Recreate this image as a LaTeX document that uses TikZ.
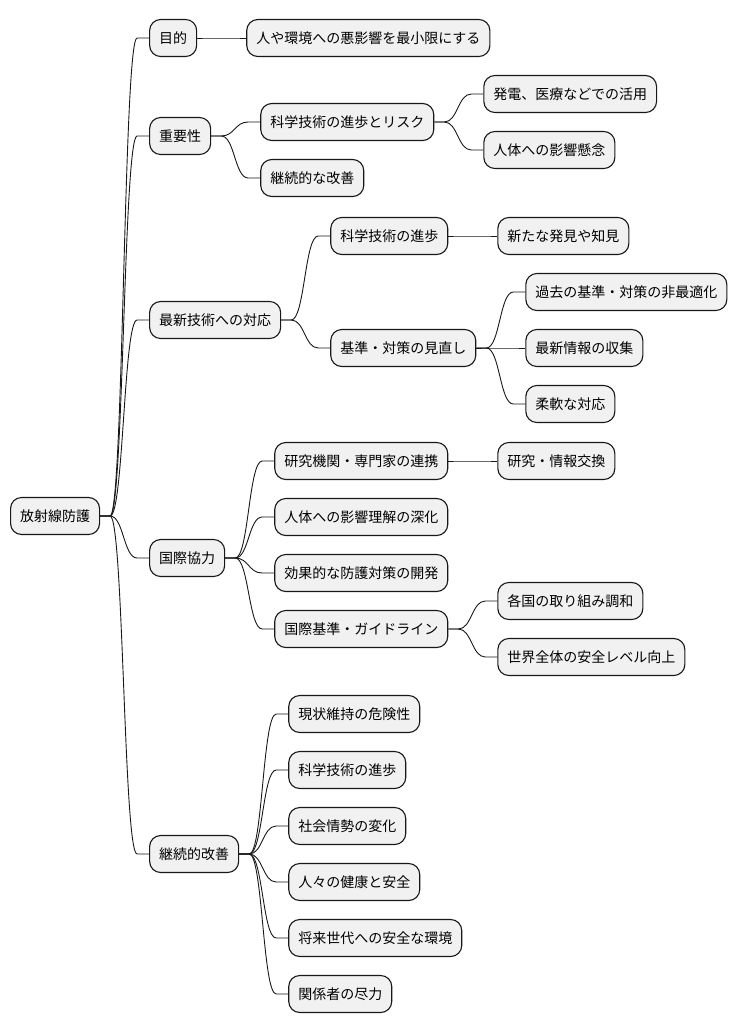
\documentclass[tikz,border=0pt]{standalone}
\usepackage{fontspec}
\setmainfont{Noto Sans CJK JP}
\usetikzlibrary{calc}
\definecolor{linec}{HTML}{181818}
\definecolor{boxfill}{HTML}{F1F1F1}
\tikzset{
  box/.style={draw=linec, fill=boxfill, line width=1.1pt, rounded corners=11pt,
    minimum height=37pt, inner xsep=9.5pt, inner ysep=0pt,
    font=\fontsize{14pt}{16pt}\selectfont, anchor=west},
  conn/.style={draw=linec, line width=0.9pt},
}
\newcommand\mmlink[2]{\draw[conn] (#1.east) -- ++(10,0) .. controls +(13.5,0) and +(-13.5,0) .. ($(#2.west)+(-12,0)$) -- (#2.west);}
\newcommand\mmchild[4]{\node[box] (#2) at ($(#1.east |- 0,#3)+(49,0)$) {#4};\mmlink{#1}{#2}}
\begin{document}
\begin{tikzpicture}[x=1pt,y=-1pt]
\useasboundingbox (0,0) rectangle (740,1034);
\node[box] (root) at (10,516) {放射線防護};
% 目的
\mmchild{root}{mokuteki}{38}{目的}
\mmchild{mokuteki}{hito}{38}{人や環境への悪影響を最小限にする}
% 重要性
\mmchild{root}{juyo}{136}{重要性}
\mmchild{juyo}{kagakuR}{122}{科学技術の進歩とリスク}
\mmchild{juyo}{keizokuA}{178}{継続的な改善}
\mmchild{kagakuR}{hatsuden}{94}{発電、医療などでの活用}
\mmchild{kagakuR}{jintai}{150}{人体への影響懸念}
% 最新技術への対応
\mmchild{root}{saishin}{320}{最新技術への対応}
\mmchild{saishin}{kagakuB}{236}{科学技術の進歩}
\mmchild{kagakuB}{arata}{236}{新たな発見や知見}
\mmchild{saishin}{kijun}{348}{基準・対策の見直し}
\mmchild{kijun}{kako}{292}{過去の基準・対策の非最適化}
\mmchild{kijun}{joho}{348}{最新情報の収集}
\mmchild{kijun}{junan}{404}{柔軟な対応}
% 国際協力
\mmchild{root}{kokusai}{558}{国際協力}
\mmchild{kokusai}{kenkyu}{461}{研究機関・専門家の連携}
\mmchild{kenkyu}{koukan}{461}{研究・情報交換}
\mmchild{kokusai}{rikai}{517}{人体への影響理解の深化}
\mmchild{kokusai}{kouka}{573}{効果的な防護対策の開発}
\mmchild{kokusai}{guide}{629}{国際基準・ガイドライン}
\mmchild{guide}{chowa}{601}{各国の取り組み調和}
\mmchild{guide}{sekai}{657}{世界全体の安全レベル向上}
% 継続的改善
\mmchild{root}{keizoku}{854}{継続的改善}
\mmchild{keizoku}{genjo}{714}{現状維持の危険性}
\mmchild{keizoku}{kagakuC}{770}{科学技術の進歩}
\mmchild{keizoku}{shakai}{826}{社会情勢の変化}
\mmchild{keizoku}{hitobito}{882}{人々の健康と安全}
\mmchild{keizoku}{shorai}{938}{将来世代への安全な環境}
\mmchild{keizoku}{kankei}{994}{関係者の尽力}
\end{tikzpicture}
\end{document}
